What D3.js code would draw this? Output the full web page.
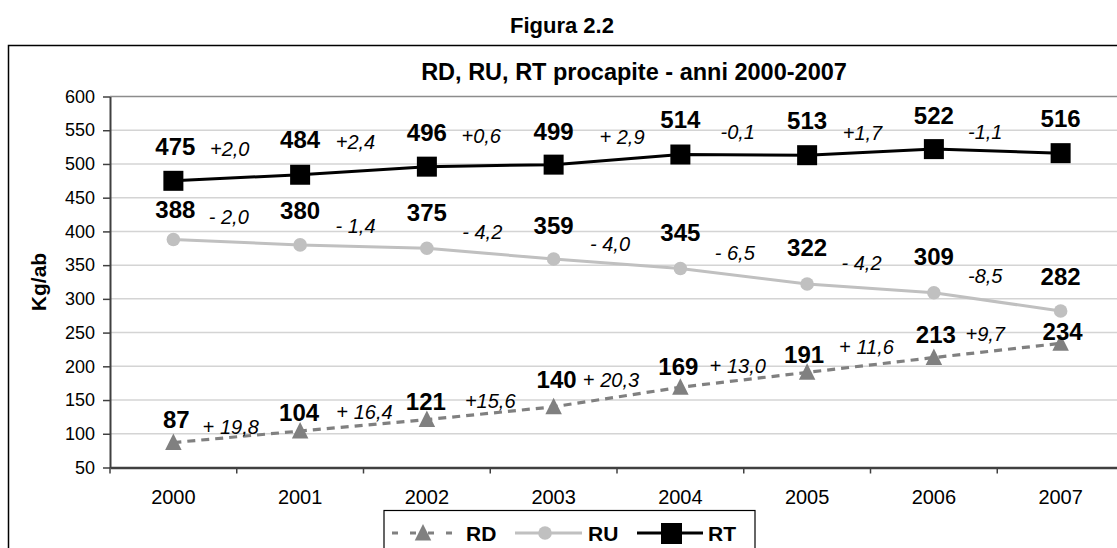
<!DOCTYPE html>
<html>
<head>
<meta charset="utf-8">
<script src="https://cdn.jsdelivr.net/npm/d3@7"></script>
<style>
  html, body { margin: 0; padding: 0; background: #fff; }
  svg { display: block; font-family: "Liberation Sans", Arial, sans-serif; }
</style>
</head>
<body>
<svg id="chart" width="1117" height="548"></svg>
<script>
// Per-capita waste (kg per inhabitant), 2000-2007
const years = ["2000", "2001", "2002", "2003", "2004", "2005", "2006", "2007"];
const rd = [87, 104, 121, 140, 169, 191, 213, 234];   // raccolta differenziata
const ru = [388, 380, 375, 359, 345, 322, 309, 282];  // rifiuti urbani indifferenziati
const rt = [475, 484, 496, 499, 514, 513, 522, 516];  // rifiuti totali
// Year-on-year % changes, written between consecutive points
const rdChange = ["+ 19,8", "+ 16,4", "+15,6", "+ 20,3", "+ 13,0", "+ 11,6", "+9,7"];
const ruChange = ["- 2,0", "- 1,4", "- 4,2", "- 4,0", "- 6,5", "- 4,2", "-8,5"];
const rtChange = ["+2,0", "+2,4", "+0,6", "+ 2,9", "-0,1", "+1,7", "-1,1"];
const yTicks = [50, 100, 150, 200, 250, 300, 350, 400, 450, 500, 550, 600];

// Label placement tweaks: [dx, dy] relative to the mark (values) or segment midpoint (changes)
const rtValueShift = [[2, -34], [0, -35], [0, -34], [0, -33], [0, -35], [0, -35], [0, -34], [0, -35]];
const ruValueShift = [[2, -30], [0, -35], [0, -36], [0, -34], [0, -36], [0, -37], [0, -36], [0, -35]];
const rdValueShift = [[3, -23], [-1, -19], [-1, -18], [3, -27], [-2, -21], [-3, -18], [2, -23], [2, -12]];
const rtChangeShift = [[-7, -29], [-8, -29], [-9, -30], [5, -23], [-6, -23], [-8, -19], [-12, -19]];
const ruChangeShift = [[-8, -25], [-8, -21], [-8, -22], [-7, -20], [-9, -23], [-9, -26], [-12, -26]];
const rdChangeShift = [[-6, -10], [1, -14], [0, -12], [-6, -17], [-6, -14], [-4, -18], [-12, -17]];

const svg = d3.select("#chart");
const W = 1117, H = 548;
const m = { left: 110, top: 96.5, bottom: 467.5, right: 1124 };

svg.append("rect").attr("width", W).attr("height", H).attr("fill", "#fff");

// Outer chart frame (continues past the right and bottom edges)
svg.append("path")
  .attr("d", `M8.5,${H + 2} V45.5 H${W + 2}`)
  .attr("fill", "none").attr("stroke", "#000").attr("stroke-width", 1.5);

svg.append("text")
  .attr("x", 562).attr("y", 33)
  .attr("text-anchor", "middle")
  .attr("font-weight", "bold").attr("font-size", 22)
  .text("Figura 2.2");

svg.append("text")
  .attr("x", 634).attr("y", 80)
  .attr("text-anchor", "middle")
  .attr("font-weight", "bold").attr("font-size", 23.5)
  .text("RD, RU, RT procapite - anni 2000-2007");

const x = d3.scaleBand().domain(years).range([m.left, m.right]);
const y = d3.scaleLinear().domain([50, 600]).range([m.bottom, m.top]);
const cx = d => x(d) + x.bandwidth() / 2;

// Gridlines
svg.append("g").selectAll("line")
  .data(yTicks.filter(v => v > 50 && v < 600))
  .join("line")
  .attr("x1", m.left).attr("x2", W)
  .attr("y1", d => y(d)).attr("y2", d => y(d))
  .attr("stroke", "#d4d4d4").attr("stroke-width", 1.5);

// Plot area top edge
svg.append("line")
  .attr("x1", m.left).attr("x2", W)
  .attr("y1", y(600)).attr("y2", y(600))
  .attr("stroke", "#8c8c8c").attr("stroke-width", 1.5);

// Y axis
const yAxis = svg.append("g")
  .attr("transform", `translate(${m.left},0)`)
  .call(d3.axisLeft(y).tickValues(yTicks).tickSize(7).tickPadding(8).tickSizeOuter(0));
yAxis.select(".domain").attr("stroke", "#404040").attr("stroke-width", 2);
yAxis.selectAll(".tick line").attr("stroke", "#404040").attr("stroke-width", 1.5);
yAxis.selectAll(".tick text")
  .attr("font-family", "Liberation Sans, Arial, sans-serif")
  .attr("font-size", 18).attr("fill", "#000");

// X axis with ticks between categories
const xAxis = svg.append("g")
  .attr("transform", `translate(0,${m.bottom})`)
  .call(d3.axisBottom(x).tickSize(0).tickPadding(22).tickSizeOuter(0));
xAxis.select(".domain").attr("stroke", "#404040").attr("stroke-width", 2.5);
xAxis.selectAll(".tick text")
  .attr("font-family", "Liberation Sans, Arial, sans-serif")
  .attr("font-size", 20).attr("fill", "#000");
xAxis.append("g").selectAll("line")
  .data(years)
  .join("line")
  .attr("x1", d => x(d)).attr("x2", d => x(d))
  .attr("y1", 0).attr("y2", 6)
  .attr("stroke", "#404040").attr("stroke-width", 1.5);

svg.append("text")
  .attr("transform", `translate(46,282) rotate(-90)`)
  .attr("text-anchor", "middle")
  .attr("font-weight", "bold").attr("font-size", 21)
  .text("Kg/ab");

const line = d3.line().x((d, i) => cx(years[i])).y(d => y(d));

// RD: dashed grey line with triangles
svg.append("path").datum(rd)
  .attr("d", line)
  .attr("fill", "none").attr("stroke", "#808080").attr("stroke-width", 3.2)
  .attr("stroke-dasharray", "8,6");
const tri = (px, py, s) => `M${px},${py - s * 0.55} L${px + s / 2},${py + s * 0.45} L${px - s / 2},${py + s * 0.45} Z`;
svg.append("g").selectAll("path")
  .data(rd).join("path")
  .attr("d", (d, i) => tri(cx(years[i]), y(d), 16.5))
  .attr("fill", "#808080");

// RU: light grey line with circles
svg.append("path").datum(ru)
  .attr("d", line)
  .attr("fill", "none").attr("stroke", "#c0c0c0").attr("stroke-width", 3);
svg.append("g").selectAll("circle")
  .data(ru).join("circle")
  .attr("cx", (d, i) => cx(years[i])).attr("cy", d => y(d))
  .attr("r", 6.8).attr("fill", "#c0c0c0");

// RT: black line with squares
svg.append("path").datum(rt)
  .attr("d", line)
  .attr("fill", "none").attr("stroke", "#000").attr("stroke-width", 3);
svg.append("g").selectAll("rect")
  .data(rt).join("rect")
  .attr("x", (d, i) => cx(years[i]) - 10).attr("y", d => y(d) - 10)
  .attr("width", 20).attr("height", 20).attr("fill", "#000");

// Value labels
function valueLabels(series, shift) {
  svg.append("g").selectAll("text")
    .data(series).join("text")
    .attr("x", (d, i) => cx(years[i]) + shift[i][0])
    .attr("y", (d, i) => y(d) + shift[i][1])
    .attr("dy", "0.36em")
    .attr("text-anchor", "middle")
    .attr("font-weight", "bold").attr("font-size", 24)
    .text(d => d);
}
valueLabels(rt, rtValueShift);
valueLabels(ru, ruValueShift);
valueLabels(rd, rdValueShift);

// Change labels between consecutive years
function changeLabels(series, labels, shift, uprightSign) {
  svg.append("g").selectAll("text")
    .data(labels).join("text")
    .attr("x", (d, i) => (cx(years[i]) + cx(years[i + 1])) / 2 + shift[i][0])
    .attr("y", (d, i) => (y(series[i]) + y(series[i + 1])) / 2 + shift[i][1])
    .attr("dy", "0.36em")
    .attr("text-anchor", "middle")
    .attr("font-size", 20)
    .each(function (d) {
      const t = d3.select(this);
      if (uprightSign && d.startsWith("+ ")) {
        t.append("tspan").text("+ ");
        t.append("tspan").attr("font-style", "italic").text(d.slice(2));
      } else {
        t.append("tspan").attr("font-style", "italic").text(d);
      }
    });
}
changeLabels(rt, rtChange, rtChangeShift, false);
changeLabels(ru, ruChange, ruChangeShift, false);
changeLabels(rd, rdChange, rdChangeShift, true);

// Legend
const lg = svg.append("g");
lg.append("rect")
  .attr("x", 384).attr("y", 510.5).attr("width", 371).attr("height", 60)
  .attr("fill", "#fff").attr("stroke", "#000").attr("stroke-width", 1.2);
const ly = 533;
lg.append("line").attr("x1", 392).attr("x2", 452).attr("y1", ly).attr("y2", ly)
  .attr("stroke", "#808080").attr("stroke-width", 3.2).attr("stroke-dasharray", "6,12");
lg.append("path").attr("d", tri(423, ly, 16.5)).attr("fill", "#808080");
lg.append("text").attr("x", 466).attr("y", ly).attr("dy", "0.36em")
  .attr("font-weight", "bold").attr("font-size", 21).text("RD");
lg.append("line").attr("x1", 515).attr("x2", 582).attr("y1", ly).attr("y2", ly)
  .attr("stroke", "#c0c0c0").attr("stroke-width", 3);
lg.append("circle").attr("cx", 545).attr("cy", ly).attr("r", 6.8).attr("fill", "#c0c0c0");
lg.append("text").attr("x", 588).attr("y", ly).attr("dy", "0.36em")
  .attr("font-weight", "bold").attr("font-size", 21).text("RU");
lg.append("line").attr("x1", 637).attr("x2", 703).attr("y1", ly).attr("y2", ly)
  .attr("stroke", "#000").attr("stroke-width", 3);
lg.append("rect").attr("x", 661).attr("y", ly - 10).attr("width", 21).attr("height", 21).attr("fill", "#000");
lg.append("text").attr("x", 708).attr("y", ly).attr("dy", "0.36em")
  .attr("font-weight", "bold").attr("font-size", 21).text("RT");
</script>
</body>
</html>
